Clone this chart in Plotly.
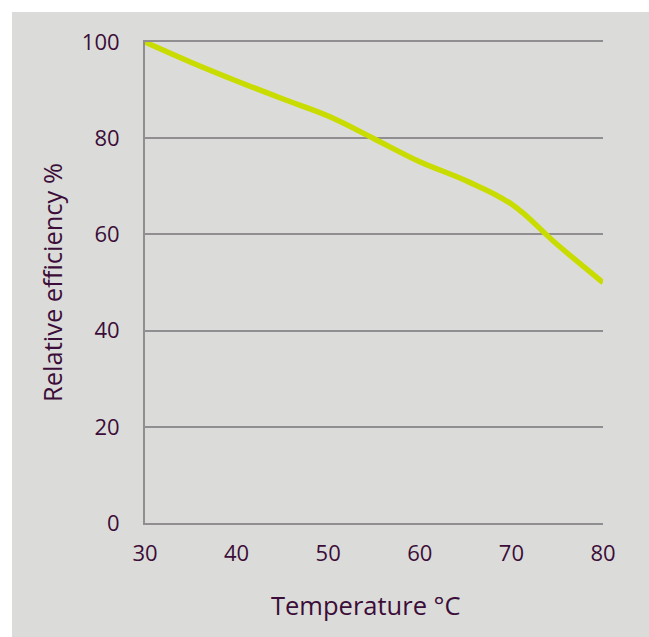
import plotly.graph_objects as go

temperature = [30, 35, 40, 45, 50, 55, 60, 65, 70, 75, 80]
efficiency = [100, 95.8, 91.9, 88.2, 84.6, 79.9, 75.1, 71.2, 66.3, 57.9, 50.0]

x_ticks = [30, 40, 50, 60, 70, 80]
y_ticks = [0, 20, 40, 60, 80, 100]

x_title = "Temperature °C"
y_title = "Relative efficiency %"

W, H = 649, 637
L, T = 145, 42
R, B = W - 603, H - 523
pw, ph = W - L - R, H - T - B

bg = "#dbdcda"
grid = "#918e91"
txt = "#3b0d38"
font = "Open Sans"

fig = go.Figure()
fig.add_trace(go.Scatter(
    x=temperature, y=efficiency, mode="lines",
    line=dict(color="#c9dc00", width=5.5, shape="spline", smoothing=1.1),
    hoverinfo="skip", showlegend=False,
))

fig.add_shape(type="rect", xref="paper", yref="paper", layer="below",
              x0=(12 - L) / pw, x1=(W - L) / pw + 0.05,
              y0=(ph + T - H) / ph - 0.05, y1=(ph + T - 12) / ph,
              fillcolor=bg, line=dict(width=0))

fig.add_annotation(text=x_title, xref="paper", yref="paper",
                   x=(366 - L) / pw, y=(ph + T - 605) / ph,
                   xanchor="center", yanchor="middle", showarrow=False,
                   font=dict(family=font, size=25.5, color=txt))

fig.update_layout(
    width=W, height=H,
    margin=dict(l=L, r=R, t=T, b=B),
    paper_bgcolor="white", plot_bgcolor=bg,
    font=dict(family=font, size=22, color=txt),
    xaxis=dict(range=[30, 80], tickvals=x_ticks, showgrid=False, zeroline=False,
               showline=True, mirror=True, linecolor=grid, linewidth=2,
               ticklabelstandoff=10),
    yaxis=dict(range=[0, 100], tickvals=y_ticks, showgrid=True, gridcolor=grid,
               gridwidth=2, zeroline=False, showline=True, linecolor=grid,
               linewidth=2, ticklabelstandoff=19,
               title=dict(text=y_title, standoff=12, font=dict(size=25.5, color=txt))),
)

fig.write_html(
    "out.html",
    config={"displayModeBar": False},
    post_script=(
        "document.documentElement.style.overflow='hidden';"
        "document.documentElement.style.margin='0';"
        "document.documentElement.style.background='" + bg + "';"
        "document.body.style.margin='0';document.body.style.overflow='hidden';"
        "document.body.style.background='" + bg + "';"
    ),
)
